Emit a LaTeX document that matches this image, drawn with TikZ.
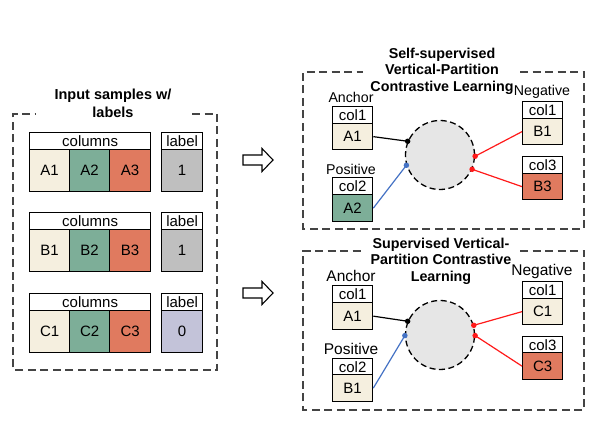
\documentclass[tikz,border=0pt]{standalone}
\usepackage{fontspec}
\setmainfont{Liberation Sans}
\definecolor{cream}{HTML}{F5EFDF}
\definecolor{sage}{HTML}{7DAE98}
\definecolor{terra}{HTML}{E07A5F}
\definecolor{lgray}{HTML}{BFBFBF}
\definecolor{lav}{HTML}{C3C3D9}
\definecolor{circ}{HTML}{E6E6E6}
\definecolor{dashc}{HTML}{444444}
\definecolor{bluel}{HTML}{4472C4}
\definecolor{redl}{HTML}{FF1A1A}
\begin{document}
\begin{tikzpicture}[x=1pt,y=-1pt,
  bx/.style={draw=black, line width=1.3pt, inner sep=0pt, anchor=north west, font=\fontsize{15}{16}\selectfont},
  hd/.style={bx, fill=white, minimum height=17pt},
  frame/.style={draw=dashc, line width=1.2pt, dash pattern=on 8pt off 4.5pt},
  ttl/.style={font=\bfseries\fontsize{14.3}{16.5}\selectfont, align=center, inner sep=0pt},
  ttll/.style={font=\bfseries\fontsize{14.5}{18}\selectfont, align=center, inner sep=0pt},
  lbl/.style={inner sep=0pt, font=\fontsize{14.2}{15}\selectfont},
  lblb/.style={inner sep=0pt, font=\fontsize{15.5}{16}\selectfont},
  hollow/.style={draw=black, line width=1.1pt, fill=white},
  lnk/.style={line width=1.2pt},
  ring/.style={circle, draw=black, line width=1.3pt, dash pattern=on 6pt off 3.5pt, fill=circ, minimum size=69pt, inner sep=0pt},
  dotm/.style={circle, inner sep=0pt, minimum size=5.5pt}
]
\useasboundingbox (0,0) rectangle (616,435);

% ---------------- left panel ----------------
\draw[frame] (192,114) -- (217,114) -- (217,370) -- (13,370) -- (13,114) -- (35,114);
\node[ttll] (ttlL) at (113,103) {Input samples w/\\labels};

% row A
\node[hd, minimum width=121pt] (colA) at (29,132) {columns};
\node[bx, fill=cream, minimum width=40pt, minimum height=42pt] (a1) at (29,149) {A1};
\node[bx, fill=sage, minimum width=40pt, minimum height=42pt] (a2) at (69,149) {A2};
\node[bx, fill=terra, minimum width=41pt, minimum height=42pt] (a3) at (109,149) {A3};
\node[hd, minimum width=41pt] (labA) at (161,132) {label};
\node[bx, fill=lgray, minimum width=41pt, minimum height=42pt] (yA) at (161,149) {1};

% row B
\node[hd, minimum width=121pt] (colB) at (29,212) {columns};
\node[bx, fill=cream, minimum width=40pt, minimum height=42pt] (b1) at (29,229) {B1};
\node[bx, fill=sage, minimum width=40pt, minimum height=42pt] (b2) at (69,229) {B2};
\node[bx, fill=terra, minimum width=41pt, minimum height=42pt] (b3) at (109,229) {B3};
\node[hd, minimum width=41pt] (labB) at (161,212) {label};
\node[bx, fill=lgray, minimum width=41pt, minimum height=42pt] (yB) at (161,229) {1};

% row C
\node[hd, minimum width=121pt] (colC) at (29,293) {columns};
\node[bx, fill=cream, minimum width=40pt, minimum height=42pt] (c1) at (29,310) {C1};
\node[bx, fill=sage, minimum width=40pt, minimum height=42pt] (c2) at (69,310) {C2};
\node[bx, fill=terra, minimum width=41pt, minimum height=42pt] (c3) at (109,310) {C3};
\node[hd, minimum width=41pt] (labC) at (161,293) {label};
\node[bx, fill=lav, minimum width=41pt, minimum height=42pt] (yC) at (161,310) {0};

% ---------------- hollow arrows ----------------
\draw[hollow] (243,155) -- (262,155) -- (262,148.5) -- (273,160) -- (262,171.5) -- (262,165) -- (243,165) -- cycle;
\draw[hollow] (243,288) -- (262,288) -- (262,281.5) -- (273,293) -- (262,304.5) -- (262,298) -- (243,298) -- cycle;

% ---------------- top right panel ----------------
\draw[frame] (520,72) -- (584,72) -- (584,229) -- (303,229) -- (303,72) -- (363,72);
\node[ttl] (ttlT) at (442,71) {Self-supervised\\Vertical-Partition\\Contrastive Learning};

\node[lbl] (ancT) at (351,97) {Anchor};
\node[hd, minimum width=40pt] (tc1) at (332,106) {col1};
\node[bx, fill=cream, minimum width=40pt, minimum height=26pt] (tA1) at (332,123) {A1};
\node[lbl] (posT) at (351,169) {Positive};
\node[hd, minimum width=40pt] (tc2) at (332,177) {col2};
\node[bx, fill=sage, minimum width=40pt, minimum height=27pt] (tA2) at (332,194) {A2};

\node[lbl] (negT) at (542,92) {Negative};
\node[hd, minimum width=40pt] (tn1) at (522,101) {col1};
\node[bx, fill=cream, minimum width=40pt, minimum height=26pt] (tB1) at (522,118) {B1};
\node[hd, minimum width=40pt] (tn3) at (522,156) {col3};
\node[bx, fill=terra, minimum width=40pt, minimum height=26pt] (tB3) at (522,173) {B3};

\node[ring] (ringT) at (440,155) {};
\draw[lnk, black] (tA1.east) -- (ringT.157);
\draw[lnk, bluel] (tA2.east) -- (ringT.197);
\draw[lnk, redl] (tB1.west) -- (ringT.-2);
\draw[lnk, redl] (tB3.west) -- (ringT.-24);
\node[dotm, fill=black] (dT1) at (ringT.157) {};
\node[dotm, fill=bluel] (dT2) at (ringT.197) {};
\node[dotm, fill=redl] (dT3) at (ringT.-2) {};
\node[dotm, fill=redl] (dT4) at (ringT.-24) {};

% ---------------- bottom right panel ----------------
\draw[frame] (520,251) -- (584,251) -- (584,410) -- (303,410) -- (303,251) -- (362,251);
\node[ttl] (ttlB) at (441,261) {Supervised Vertical-\\Partition Contrastive\\Learning};

\node[lblb] (ancB) at (351,276) {Anchor};
\node[hd, minimum width=40pt] (bc1) at (332,285) {col1};
\node[bx, fill=cream, minimum width=40pt, minimum height=27pt] (bA1) at (332,302) {A1};
\node[lblb] (posB) at (351,349) {Positive};
\node[hd, minimum width=40pt, minimum height=16pt] (bc2) at (332,358) {col2};
\node[bx, fill=cream, minimum width=40pt, minimum height=27pt] (bB1) at (332,374) {B1};

\node[lblb] (negB) at (542,271) {Negative};
\node[hd, minimum width=40pt] (bn1) at (522,281) {col1};
\node[bx, fill=cream, minimum width=40pt, minimum height=26pt] (bC1) at (522,298) {C1};
\node[hd, minimum width=40pt, minimum height=16pt] (bn3) at (522,336) {col3};
\node[bx, fill=terra, minimum width=40pt, minimum height=27pt] (bC3) at (522,352) {C3};

\node[ring] (ringB) at (440,335) {};
\draw[lnk, black] (bA1.east) -- (ringB.157);
\draw[lnk, bluel] (bB1.east) -- (ringB.181);
\draw[lnk, redl] (bC1.west) -- (ringB.16);
\draw[lnk, redl] (bC3.west) -- (ringB.-1);
\node[dotm, fill=black] (dB1) at (ringB.157) {};
\node[dotm, fill=bluel] (dB2) at (ringB.181) {};
\node[dotm, fill=redl] (dB3) at (ringB.16) {};
\node[dotm, fill=redl] (dB4) at (ringB.-1) {};
\end{tikzpicture}
\end{document}
